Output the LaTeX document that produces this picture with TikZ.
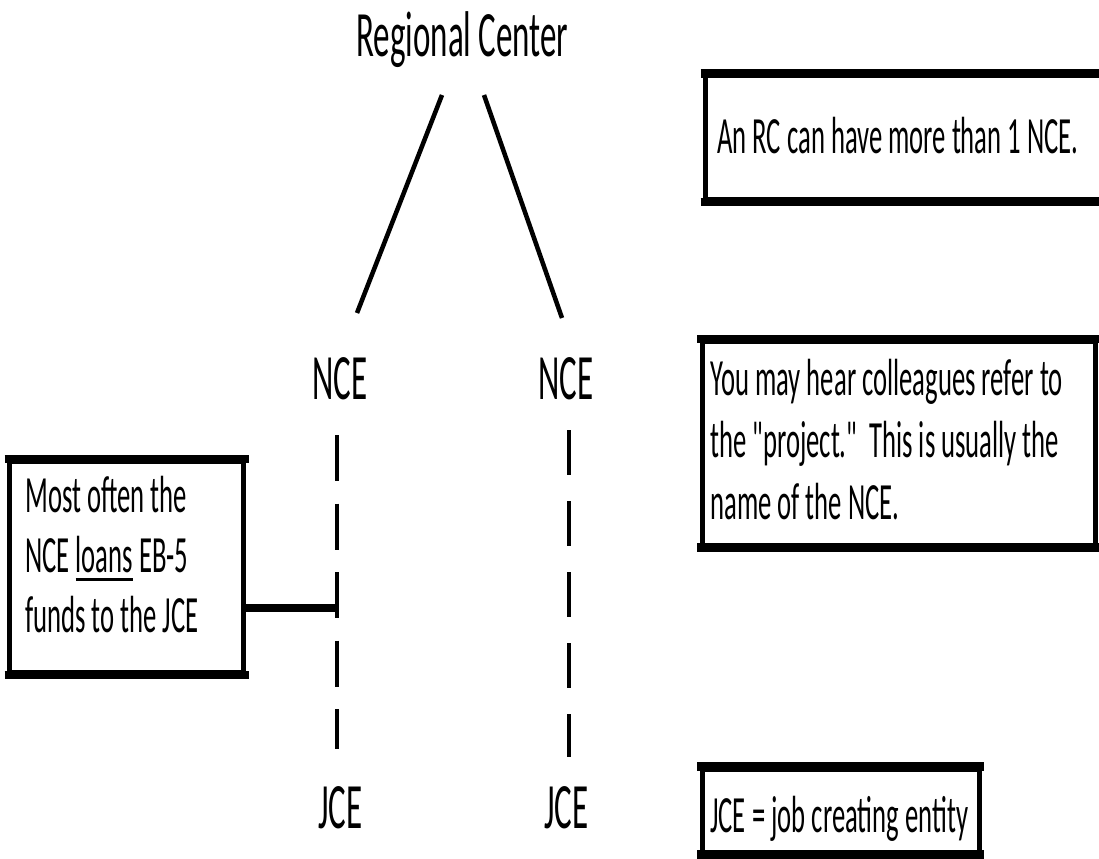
\documentclass[tikz,border=0pt]{standalone}
\usepackage{fontspec}
\newfontfamily\carl{Carlito}[FakeStretch=0.51]
\usetikzlibrary{calc,fit}
\newsavebox{\ulbox}
\newcommand{\ulword}[1]{\sbox{\ulbox}{#1}\rlap{\rule[-6.75pt]{\wd\ulbox}{2.25pt}}\usebox{\ulbox}}
\begin{document}
\begin{tikzpicture}[x=0.75pt,y=-0.75pt,
  lbl/.style={inner sep=0pt, font=\carl\fontsize{48.5pt}{58pt}\selectfont, anchor=base},
  note/.style={inner sep=0pt, anchor=base west, align=left, font=\carl\fontsize{39.2pt}{46.5pt}\selectfont},
  frame/.style={draw, line width=3.75pt, inner sep=0pt},
  hedge/.style={line width=6.4pt, shorten <=-1.875pt, shorten >=-1.875pt},
  stem/.style={line width=3.4pt},
  dashstemL/.style={line width=3pt, dash pattern=on 34.5pt off 16.9pt},
  dashstemR/.style={line width=3pt, dash pattern=on 33.75pt off 19.5pt},
  link/.style={line width=6pt}]
\useasboundingbox (0,0) rectangle (1099,859);
\fill[white] (0,0) rectangle (1099,859);
\clip (0,0) rectangle (1099,859);

% boxes
\node[frame, fit={(705.5,76) (1115,199.5)}] (b1) {};
\draw[hedge] (b1.north west) -- (b1.north east);
\draw[hedge] (b1.south west) -- (b1.south east);
\node[frame, fit={(702,341.5) (1095.5,545)}] (b2) {};
\draw[hedge] (b2.north west) -- (b2.north east);
\draw[hedge] (b2.south west) -- (b2.south east);
\node[frame, fit={(9.5,461.5) (243.5,672.5)}] (b3) {};
\draw[hedge] (b3.north west) -- (b3.north east);
\draw[hedge] (b3.south west) -- (b3.south east);
\node[frame, fit={(702,769) (979,852)}] (b4) {};
\draw[hedge] (b4.north west) -- (b4.north east);
\draw[hedge] (b4.south west) -- (b4.south east);

% box texts (base anchor = baseline of last line)
\node[note] (t1) at (717,154) {An RC can have more than 1 NCE.};
\node[note] (t2) at (710,519) {You may hear colleagues refer to\\the "project."\ \ This is usually the\\name of the NCE.};
\node[note, font=\carl\fontsize{39.2pt}{45pt}\selectfont] (t3) at (25,632) {Most often the\\NCE \ulword{loans} EB-5\\funds to the JCE};
\node[note] (t4) at (710,832) {JCE = job creating entity};

% labels
\node[lbl] (rc) at (462.5,57) {Regional Center};
\node[lbl] (nceL) at (340,399) {NCE};
\node[lbl] (nceR) at (566,399) {NCE};
\node[lbl] (jceL) at (340.5,828) {JCE};
\node[lbl] (jceR) at (566.5,828) {JCE};

% connectors
\draw[stem] ($(rc.base)+(-20.5,38)$) -- ($(nceL.base)+(17,-86)$);
\draw[stem] ($(rc.base)+(21.5,38)$) -- ($(nceR.base)+(-4,-81)$);
\draw[dashstemL] ($(nceL.base)+(-3,36)$) -- ($(jceL.base)+(-3.5,-79)$);
\draw[dashstemR] ($(nceR.base)+(3,31)$) -- ($(jceR.base)+(2.5,-71)$);
\coordinate (tick) at ($(nceL.base)+(-3,209)$);
\draw[link] (b3.east |- tick) -- (tick);
\end{tikzpicture}
\end{document}
